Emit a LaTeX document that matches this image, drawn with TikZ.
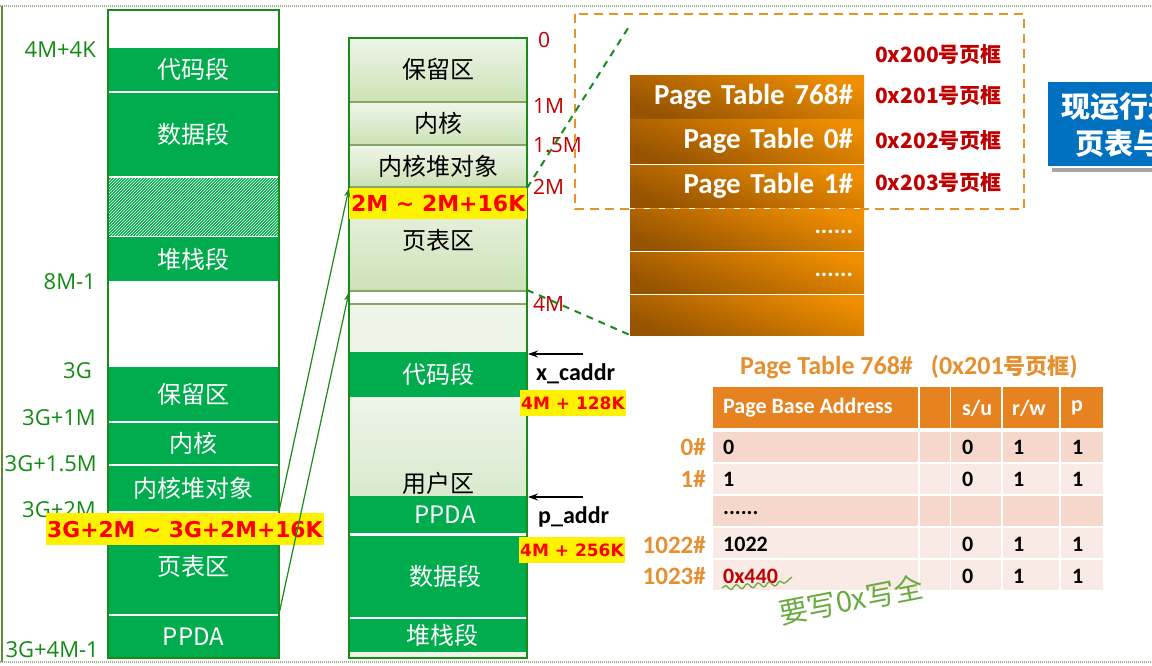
\documentclass[tikz,border=0pt]{standalone}
\usepackage{fontspec}
\setmainfont{Noto Sans CJK SC}
\newfontfamily\calfnt{Carlito}
\newfontfamily\dvfnt{DejaVu Sans}
\newfontfamily\osfnt{Open Sans}
\usetikzlibrary{patterns,arrows.meta,decorations.pathmorphing}
\definecolor{sgreen}{HTML}{00AC4E}
\definecolor{bgreen}{HTML}{1A8A1A}
\definecolor{lgA}{HTML}{EEF5E8}
\definecolor{lgB}{HTML}{CCE2B6}
\definecolor{sepc}{HTML}{86A566}
\definecolor{dred}{HTML}{C00000}
\definecolor{lbl}{HTML}{138A13}
\definecolor{orD}{HTML}{E8922A}
\definecolor{ptL}{HTML}{965300}
\definecolor{ptR}{HTML}{EE8E00}
\definecolor{hdr}{HTML}{E6821F}
\definecolor{rowA}{HTML}{F5D8CB}
\definecolor{rowB}{HTML}{FAEAE5}
\definecolor{ttl}{HTML}{E59030}
\definecolor{blu}{HTML}{0070C0}
\definecolor{hand}{HTML}{6AAA40}
\definecolor{dotc}{HTML}{9AB08A}
\tikzset{
  box/.style={anchor=north west, inner sep=0pt, outer sep=0pt},
  segfont/.style={font=\fontsize{24}{26}\selectfont},
  lseg/.style={box, fill=sgreen, minimum width=171, text=white, segfont},
  mseg/.style={box, fill=sgreen, minimum width=178, text=white, segfont},
  mlight/.style={box, top color=lgA, bottom color=lgB, minimum width=178, text=black, segfont},
  mflat/.style={box, fill=lgA, minimum width=178},
  sepline/.style={draw=sepc, line width=2pt},
  wline/.style={draw=white, line width=2pt},
  glabel/.style={anchor=east, text=lbl, font=\osfnt\fontsize{22}{24}\selectfont, inner sep=0pt},
  rlabel/.style={anchor=west, text=dred, font=\osfnt\fontsize{21}{23}\selectfont, inner sep=0pt},
  ylab/.style={fill=yellow, text=red, font=\dvfnt\bfseries\fontsize{22}{24}\selectfont, inner sep=1pt, minimum height=28},
  ptrow/.style={box, minimum width=234, text width=212, align=right, text=white,
     top color=ptR, bottom color=ptL, shading angle=-20, font=\calfnt\bfseries\fontsize{29}{31}\selectfont},
  frame/.style={anchor=west, inner sep=0pt, text=dred, font=\bfseries\fontsize{21}{23}\selectfont},
  cell/.style={box},
  ctext/.style={anchor=west, inner sep=0pt, font=\calfnt\bfseries\fontsize{22}{24}\selectfont},
  rowlab/.style={anchor=east, inner sep=0pt, text=ttl, font=\calfnt\bfseries\fontsize{25}{27}\selectfont},
  garrow/.style={draw=bgreen, line width=1.2pt, -{Stealth[length=9pt,width=6pt]}},
  karrow/.style={draw=black, line width=1.2pt, -{Stealth[length=10pt,width=7pt]}, shorten >=1pt},
  gdash/.style={draw=bgreen, line width=2pt, dash pattern=on 7pt off 6pt},
  kname/.style={anchor=west, inner sep=0pt, font=\calfnt\bfseries\fontsize{24}{26}\selectfont}
}
\begin{document}
\begin{tikzpicture}[x=1pt,y=-1pt]
\useasboundingbox (0,0) rectangle (1152,665);
% page frame lines
\draw[dotc, line width=1.2pt, dash pattern=on 1pt off 1pt] (0,6) -- (1152,6);
\draw[dotc, line width=1.2pt, dash pattern=on 1pt off 1pt] (0,662) -- (1152,662);
\draw[draw={rgb,255:red,95;green,138;blue,58}, line width=2pt] (1.5,6) -- (1.5,662);

% ---------------- left column ----------------
\node[lseg, minimum height=43] (lcode) at (108,48) {代码段};
\node[lseg, minimum height=83] (ldata) at (108,93) {数据段};
\node[box, minimum width=171, minimum height=58, fill=sgreen] (lhatch) at (108,178) {};
\fill[pattern=north east lines, pattern color=white] (lhatch.north west) rectangle (lhatch.south east);
\node[lseg, minimum height=44] (lstack) at (108,237) {堆栈段};
\node[lseg, minimum height=54] (lres) at (108,367) {保留区};
\node[lseg, minimum height=41] (lker) at (108,423) {内核};
\node[lseg, minimum height=45] (lheap) at (108,466) {内核堆对象};
\node[lseg, minimum height=101] (lpt) at (108,513) {};
\node[text=white, segfont, inner sep=0pt] (lpttxt) at (193,566) {页表区};
\node[lseg, minimum height=41] (lppda) at (108,616) {PPDA};
\draw[draw=bgreen, line width=2pt] (108,10) rectangle (279,658);

\node[glabel] (l1) at (96,50) {4M+4K};
\node[glabel] (l2) at (96,282) {8M-1};
\node[glabel] (l3) at (92,371) {3G};
\node[glabel] (l4) at (96,418) {3G+1M};
\node[glabel] (l5) at (97,464) {3G+1.5M};
\node[glabel] (l6) at (96,510) {3G+2M};
\node[glabel] (l7) at (99,650) {3G+4M-1};

% ---------------- middle column ----------------
\node[mlight, minimum height=63] (mres) at (349,38) {保留区};
\node[mlight, minimum height=40] (mker) at (349,103) {内核};
\node[mlight, minimum height=40] (mheap) at (349,146) {内核堆对象};
\node[mlight, minimum height=102] (mpt) at (349,188) {};
\node[text=black, segfont, inner sep=0pt] (mpttxt) at (438,240) {页表区};
\node[box, minimum width=178, minimum height=12, fill=white] (mgap) at (349,292) {};
\node[mflat, minimum height=47] (mup) at (349,305) {};
\node[mseg, minimum height=45] (mcode) at (349,352) {代码段};
\node[mlight, minimum height=99, top color=lgA, bottom color={rgb,255:red,216;green,233;blue,205}] (muser) at (349,397) {};
\node[text=black, segfont, inner sep=0pt] (musertxt) at (438,483) {用户区};
\node[mseg, minimum height=37] (mppda) at (349,496) {\hspace*{14pt}PPDA};
\node[mseg, minimum height=81] (mdata) at (349,536) {\hspace*{14pt}数据段};
\node[mseg, minimum height=33] (mstack) at (349,619) {\hspace*{8pt}堆栈段};
\node[mflat, minimum height=6] (mbot) at (349,652) {};
\draw[sepline] (349,102) -- (527,102);
\draw[sepline] (349,145) -- (527,145);
\draw[sepline] (349,187) -- (527,187);
\draw[sepline] (349,291) -- (527,291);
\draw[sepline] (349,304) -- (527,304);
\draw[wline] (349,534.5) -- (527,534.5);
\draw[wline] (349,618) -- (527,618);
\draw[draw=bgreen, line width=2pt] (349,38) rectangle (527,658);

\node[ylab, anchor=north west, minimum width=178, minimum height=31] (ymid) at (349,188) {2M \char`\~{} 2M+16K};
\node[ylab, anchor=north west, minimum height=32, font=\dvfnt\bfseries\fontsize{21.8}{23}\selectfont] (yleft) at (46,513) {3G+2M \char`\~{} 3G+2M+16K};

\node[rlabel] (r0) at (538,40) {0};
\node[rlabel] (r1) at (533,106) {1M};
\node[rlabel] (r2) at (533,145) {1.5M};
\node[rlabel] (r3) at (533,187) {2M};
\node[rlabel] (r4) at (533,304) {4M};

% arrows from left to middle
\draw[garrow] (lheap.south east) -- (mpt.north west);
\draw[garrow] (lpt.south east) -- (mgap.north west);

% pointers
\coordinate (xcs) at (583,354);
\coordinate (pas) at (583,497);
\draw[karrow] (xcs) -- (xcs -| mcode.east);
\draw[karrow] (pas) -- (pas -| mppda.east);
\node[kname] (xcad) at (536,374) {x\_caddr};
\node[kname] (padd) at (538,517) {p\_addr};
\node[ylab, anchor=north west, minimum height=26, font=\dvfnt\bfseries\fontsize{17}{19}\selectfont] (y128) at (520,390) {4M + 128K};
\node[ylab, anchor=north west, minimum height=26, font=\dvfnt\bfseries\fontsize{17}{19}\selectfont] (y256) at (519,537) {4M + 256K};

% ---------------- page table frames ----------------
\draw[draw=orD, line width=2pt, dash pattern=on 9pt off 6pt] (575,14) rectangle (1024,209);
\node[ptrow, minimum height=43] (pt1) at (630,75) {Page Table 768\#};
\node[ptrow, minimum height=44] (pt2) at (630,119) {Page Table 0\#};
\node[ptrow, minimum height=42] (pt3) at (630,165) {Page Table 1\#};
\node[ptrow, minimum height=41] (pt4) at (630,209) {\raisebox{-8pt}{\fontsize{24}{26}\selectfont ......}};
\node[ptrow, minimum height=41] (pt5) at (630,252) {\raisebox{-8pt}{\fontsize{24}{26}\selectfont ......}};
\node[ptrow, minimum height=40] (pt6) at (630,295) {};
\coordinate (gd1) at (630,25);
\draw[gdash] (mpt.north east) -- (gd1);
\draw[gdash] (mpt.south east) -- (pt6.south west);

\node[frame] (f0) at (875,55) {0x200号页框};
\node[frame] (f1) at (875,96) {0x201号页框};
\node[frame] (f2) at (875,141) {0x202号页框};
\node[frame] (f3) at (875,183) {0x203号页框};

% blue box (clipped at the right edge)
\begin{scope}
\clip (0,0) rectangle (1152,665);
\fill[black!35] (1052,168) rectangle (1160,172);
\node[box, fill=blu, minimum width=120, minimum height=84] (bluebox) at (1048,82) {};
\node[anchor=west, inner sep=0pt, text=white, font=\bfseries\fontsize{29}{31}\selectfont] (bt1) at (1061,107) {现运行进};
\node[anchor=west, inner sep=0pt, text=white, font=\bfseries\fontsize{29}{31}\selectfont] (bt2) at (1075,144) {页表与页};
\end{scope}

% ---------------- table ----------------
\node[anchor=west, inner sep=0pt, text=ttl, font=\calfnt\bfseries\fontsize{26}{28}\selectfont] (ttl) at (740,367) {Page Table 768\#\hspace{18pt}(0x201{\normalfont\bfseries\fontsize{22}{24}\selectfont 号页框})};
% header
\node[cell, fill=hdr, minimum width=205, minimum height=41] (h1) at (713,387) {};
\node[cell, fill=hdr, minimum width=30, minimum height=41] (h2) at (920,387) {};
\node[cell, fill=hdr, minimum width=50, minimum height=41] (h3) at (951,387) {};
\node[cell, fill=hdr, minimum width=56, minimum height=41] (h4) at (1003,387) {};
\node[cell, fill=hdr, minimum width=42, minimum height=41] (h5) at (1061,387) {};
\node[ctext, text=white] (ht1) at (723,408) {Page Base Address};
\node[ctext, text=white] (ht3) at (962,408) {s/u};
\node[ctext, text=white] (ht4) at (1012,408) {r/w};
\node[ctext, text=white] (ht5) at (1071,408) {p};
% rows
\foreach \r/\y/\c in {0/432/rowA,1/464/rowB,2/496/rowA,3/528/rowB,4/560/rowB}{
  \node[cell, fill=\c, minimum width=205, minimum height=30] (c\r a) at (713,\y) {};
  \node[cell, fill=\c, minimum width=30, minimum height=30] (c\r b) at (920,\y) {};
  \node[cell, fill=\c, minimum width=50, minimum height=30] (c\r c) at (951,\y) {};
  \node[cell, fill=\c, minimum width=56, minimum height=30] (c\r d) at (1003,\y) {};
  \node[cell, fill=\c, minimum width=42, minimum height=30] (c\r e) at (1061,\y) {};
}
\node[rowlab] (rl0) at (706,447) {0\#};
\node[rowlab] (rl1) at (706,479) {1\#};
\node[rowlab] (rl3) at (706,545) {1022\#};
\node[rowlab] (rl4) at (706,576) {1023\#};
\node[ctext] (v0) at (723,447) {0};
\node[ctext] (v1) at (723,479) {1};
\node[ctext] (v2) at (723,513) {......};
\node[ctext] (v3) at (723,544) {1022};
\node[ctext, text=dred] (v4) at (723,576) {0x440};
\foreach \r/\y in {0/447,1/479,3/544,4/576}{
  \node[ctext] (s\r) at (962,\y) {0};
  \node[ctext] (w\r) at (1013,\y) {1};
  \node[ctext] (p\r) at (1072,\y) {1};
}
% handwritten note
\draw[draw=hand, line width=1.3pt, decorate, decoration={snake, amplitude=2.2pt, segment length=11pt}] (722,588) -- (785,583);
\draw[draw=hand, line width=1.3pt] (785,583) -- (792,577);
\node[text=hand, rotate=11, inner sep=0pt, font=\fontsize{29}{31}\selectfont] (note) at (851,600) {要写0x写全};
\end{tikzpicture}
\end{document}
